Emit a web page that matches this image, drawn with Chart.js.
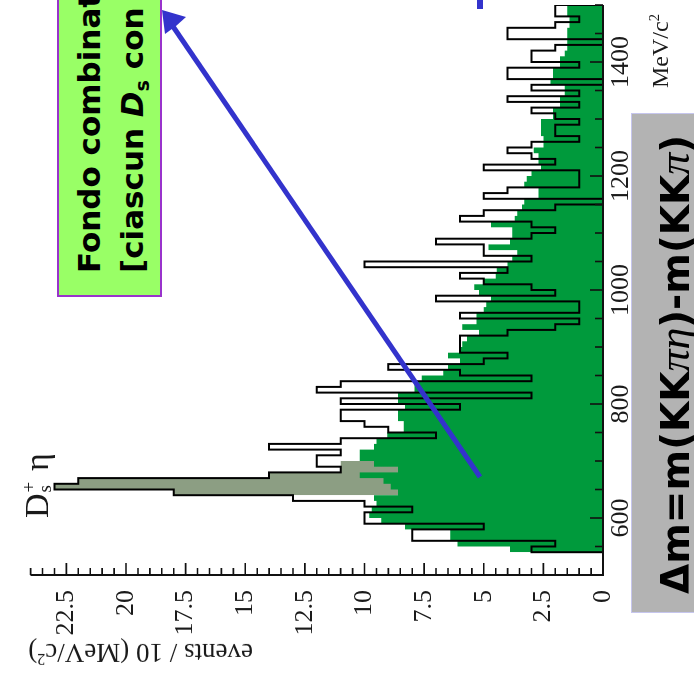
<!DOCTYPE html>
<html>
<head>
<meta charset="utf-8">
<script src="https://cdn.jsdelivr.net/npm/chart.js@4.4.1/dist/chart.umd.min.js"></script>
<style>
  html, body { margin: 0; padding: 0; background: #fff; }
  #page { position: relative; width: 694px; height: 685px; overflow: hidden; background: #fff; }
  /* the plot is laid out upright, then turned a quarter turn to the left */
  #slide { position: absolute; left: 0; top: 0; width: 685px; height: 694px;
           transform-origin: 0 0; transform: translate(0, 685px) rotate(-90deg); }
  #slide canvas { position: absolute; left: 0; top: 0; }
  .up { position: absolute; transform-origin: 0 0; transform: rotate(-90deg); white-space: nowrap; }
  .flip { position: absolute; transform-origin: 0 0; transform: rotate(180deg); white-space: nowrap; }
  .serif { font-family: "Liberation Serif", "Times New Roman", serif; color: #1a1a1a; }
  #note { position: absolute; left: 57px; top: -20px; width: 105px; height: 317px; box-sizing: border-box;
          background: #99ff66; border: 2px solid #9933cc; }
  #note-text { left: 68px; top: 273px; font: bold 31px "DejaVu Sans", sans-serif; line-height: 43px; color: #000; }
  #dm { position: absolute; left: 631px; top: 113px; width: 90px; height: 500px; box-sizing: border-box;
        background: #b3b3b3; border: 1px solid #c6c6ee; }
  #dm-text { left: 653px; top: 594px; font: bold 39px "DejaVu Sans", sans-serif; line-height: 43px; color: #000; }
  .sym { font-family: "Liberation Serif", serif; font-style: italic; font-weight: normal; font-size: 44px; }
  .sub { position: relative; font-size: 0.62em; top: 0.3em; font-style: normal; }
  sup { font-size: 0.6em; }
  #arrow { position: absolute; left: 0; top: 0; }
</style>
</head>
<body>
<div id="page">
  <div id="slide"><canvas id="hist" width="685" height="694"></canvas></div>

  <div class="up serif" style="left:642px; top:88px; font-size:24px; line-height:24px;">MeV/c<sup>2</sup></div>
  <div class="flip serif" style="left:253px; top:672px; font-size:27px; line-height:27px;">events / 10 (MeV/c<sup>2</sup>)</div>
  <div class="up serif" style="left:14px; top:518px; font-size:34px; line-height:34px;">D<span style="display:inline-block; position:relative; width:14px; height:34px;"><span style="position:absolute; left:1px; top:-2px; font-size:19px;">+</span><span style="position:absolute; left:1px; top:14px; font-size:19px;">s</span></span> η</div>

  <div id="note"></div>
  <div id="note-text" class="up">Fondo combinatorio<br>[ciascun <i>D</i><span class="sub">s</span> con</div>

  <div id="dm"></div>
  <div id="dm-text" class="up">Δm=m(KK<span class="sym">πη</span>)-m(KK<span class="sym">π</span>)</div>

  <svg id="arrow" width="694" height="685">
    <rect x="477" y="0" width="6" height="9" fill="#3333cc"/>
    <line x1="480" y1="477" x2="172" y2="25" stroke="#3333cc" stroke-width="5"/>
    <polygon points="162,10 186,17 176,26 165,34" fill="#3333cc"/>
  </svg>
</div>

<script>
// Δm histogram, 10 MeV/c² bins starting at 540 MeV/c²
const binStart = 540;
const binWidth = 10;

// candidates per bin (open histogram)
const counts = [
  1, 3, 2, 8, 8, 5, 10, 10, 8, 10,
  13, 18, 23, 22, 14, 11, 12, 12, 11, 14,
  11, 7, 9, 10, 11, 11, 6, 11, 3, 12,
  11, 3, 6, 9, 5, 4, 6, 6, 6, 4,
  2, 1, 6, 1, 1, 7, 2, 3, 5, 6,
  4, 10, 3, 5, 5, 7, 3, 2, 3, 6,
  5, 2, 0, 5, 4, 1, 1, 1, 5, 2,
  3, 4, 3, 1, 2, 2, 1, 2, 3, 1,
  4, 1, 3, 0, 4, 4, 1, 3, 3, 2,
  0, 4, 4, 2, 1, 2
];

// combinatorial background estimate (filled green)
const background = [
  0.65, 3.9, 6.1, 6.4, 6.4, 8.3, 9.3, 9.8, 9.7, 9.5,
  9.6, 8.6, 8.9, 9.2, 10.2, 8.6, 9.6, 10.2, 10.2, 9.6,
  9.5, 9.05, 8.35, 8.35, 8.6, 8.6, 8.3, 8.6, 8.6, 7.9,
  7.9, 7.6, 6.7, 6.5, 6.0, 6.5, 6.0, 5.9, 5.7, 5.2,
  5.9, 5.3, 5.3, 5.0, 4.9, 4.7, 5.2, 5.4, 5.0, 4.5,
  4.45, 4.0, 3.8, 3.6, 4.8, 3.9, 3.8, 3.8, 4.7, 3.7,
  3.6, 3.4, 3.3, 2.7, 2.7, 3.3, 3.2, 3.0, 2.6, 2.7,
  2.7, 2.9, 2.5, 2.5, 2.6, 2.6, 2.6, 2.1, 2.1, 1.8,
  1.8, 1.6, 1.6, 2.2, 2.1, 2.1, 1.8, 1.8, 1.6, 1.5,
  1.5, 1.5, 1.5, 1.4, 1.4, 1.5
];

// D_s η signal window, first and last bin index
const signalBins = [10, 15];

const massLabels = [600, 800, 1000, 1200, 1400];
const countLabels = [0, 2.5, 5, 7.5, 10, 12.5, 15, 17.5, 20, 22.5];

// turn per-bin values into a closed step outline
function stepPoints(values, firstBin) {
  const x0 = binStart + firstBin * binWidth;
  const x1 = x0 + values.length * binWidth;
  const pts = [{ x: x0, y: 0 }];
  values.forEach((v, i) => pts.push({ x: x0 + i * binWidth, y: v }));
  pts.push({ x: x1, y: values[values.length - 1] });
  pts.push({ x: x1, y: 0 });
  return pts;
}

const onStep = (v, step) => Math.abs(v / step - Math.round(v / step)) < 1e-6;

// axis lines and inward ticks, drawn over the histograms
const axisTicks = {
  id: "axisTicks",
  afterDatasetsDraw(chart) {
    const { ctx, chartArea: a, scales: { x, y } } = chart;
    ctx.save();
    ctx.strokeStyle = "#111";
    ctx.lineWidth = 2;
    ctx.beginPath();
    ctx.moveTo(a.left, a.top);
    ctx.lineTo(a.left, a.bottom);
    ctx.lineTo(a.right, a.bottom);
    ctx.stroke();

    ctx.lineWidth = 1.6;
    ctx.beginPath();
    for (let m = x.min + 50; m <= x.max; m += 50) {
      const px = x.getPixelForValue(m);
      const len = m % 200 === 0 ? 13 : 8;
      ctx.moveTo(px, a.bottom);
      ctx.lineTo(px, a.bottom - len);
    }
    for (let v = 0.5; v <= y.max + 1e-9; v += 0.5) {
      const py = y.getPixelForValue(v);
      const len = onStep(v, 2.5) ? 12 : 7;
      ctx.moveTo(a.left, py);
      ctx.lineTo(a.left + len, py);
    }
    ctx.stroke();
    ctx.restore();
  },
};

const tickFont = { family: "Liberation Serif", size: 26 };

new Chart(document.getElementById("hist"), {
  type: "line",
  data: {
    datasets: [
      {
        label: "candidates",
        data: stepPoints(counts, 0),
        stepped: "after",
        borderColor: "#000",
        borderWidth: 2,
        borderJoinStyle: "miter",
        fill: false,
        pointRadius: 0,
        order: 0,
      },
      {
        label: "background",
        data: stepPoints(background, 0),
        stepped: "after",
        borderColor: "rgba(0,0,0,0)",
        borderWidth: 0,
        backgroundColor: "#009a3c",
        fill: "origin",
        pointRadius: 0,
        order: 1,
      },
      {
        label: "signal",
        data: stepPoints(counts.slice(signalBins[0], signalBins[1] + 1), signalBins[0]),
        stepped: "after",
        borderColor: "rgba(0,0,0,0)",
        borderWidth: 0,
        backgroundColor: "#8c9e83",
        fill: "origin",
        pointRadius: 0,
        order: 2,
      },
    ],
  },
  options: {
    responsive: false,
    animation: false,
    devicePixelRatio: 1,
    layout: { padding: { top: 30, right: 5, left: 0, bottom: 0 } },
    plugins: { legend: { display: false }, tooltip: { enabled: false } },
    scales: {
      x: {
        type: "linear",
        min: 500,
        max: 1500,
        grid: { display: false, drawTicks: false },
        border: { display: false },
        afterFit: (s) => { s.height = 91; },
        ticks: {
          stepSize: 50,
          autoSkip: false,
          maxRotation: 0,
          minRotation: 0,
          padding: 3,
          color: "#1a1a1a",
          font: tickFont,
          callback: (v) => (massLabels.includes(v) ? String(v) : ""),
        },
      },
      y: {
        min: 0,
        max: 24,
        grid: { display: false, drawTicks: false },
        border: { display: false },
        afterFit: (s) => { s.width = 110; },
        ticks: {
          stepSize: 0.5,
          autoSkip: false,
          padding: 15,
          color: "#1a1a1a",
          font: tickFont,
          callback: (v) => (countLabels.some((c) => Math.abs(c - v) < 1e-6) ? String(v) : ""),
        },
      },
    },
  },
  plugins: [axisTicks],
});
</script>
</body>
</html>
